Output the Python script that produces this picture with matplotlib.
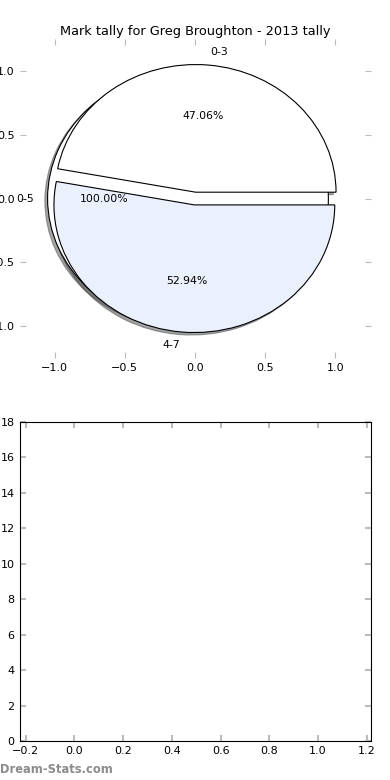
#!/usr/bin/env python3
import matplotlib
matplotlib.use("Agg")
import matplotlib.pyplot as plt

# overall tally (single slice) and split tally
all_labels = ["0-5"]
all_values = [17]
split_labels = ["0-3", "4-7"]
split_values = [8, 9]
y_ticks_bottom = [0, 2, 4, 6, 8, 10, 12, 14, 16, 18]
xy_ticks_top = [-1.0, -0.5, 0.0, 0.5, 1.0]
x_ticks_bottom = [-0.2, 0.0, 0.2, 0.4, 0.6, 0.8, 1.0, 1.2]

fig, (ax, ax2) = plt.subplots(2, 1, figsize=(3.9, 7.8), dpi=100)
fig.subplots_adjust(left=0.05, right=0.95, bottom=0.05, top=0.95, hspace=0.2)

# pie chart (shadows kept under all wedges, like old matplotlib)
shadow_opts = {"zorder": 0.9, "ox": -0.014, "oy": -0.014}
ax.pie(all_values, labels=all_labels, autopct="%.2f%%", explode=[0.05],
       shadow=shadow_opts, colors=["white"], frame=True,
       wedgeprops={"linewidth": 0.8, "edgecolor": "black"},
       textprops={"fontsize": 7.8})
ax.pie(split_values, labels=split_labels, autopct="%.2f%%",
       explode=[0.05, 0.05], shadow=shadow_opts,
       colors=["white", "#eaf0fc"], frame=True,
       wedgeprops={"linewidth": 0.8, "edgecolor": "black"},
       textprops={"fontsize": 7.8})
ax.set_aspect("auto")
ax.set_xlim(-1.25, 1.25)
ax.set_ylim(-1.25, 1.25)
ax.set_xticks(xy_ticks_top)
ax.set_yticks(xy_ticks_top)
for s in ax.spines.values():
    s.set_visible(False)
ax.tick_params(direction="in", color="#bbbbbb", length=4, top=True,
               right=True, labelsize=8)
ax.set_title("Mark tally for Greg Broughton - 2013 tally", fontsize=9.3,
             pad=3)

# empty bar area
ax2.set_xlim(-0.225, 1.215)
ax2.set_ylim(0, 18)
ax2.set_xticks(x_ticks_bottom)
ax2.set_yticks(y_ticks_bottom)
ax2.tick_params(direction="in", color="#bbbbbb", length=4, width=1.5,
                top=True, right=True, labelsize=8)

fig.text(0.0, 0.005, "Dream-Stats.com", color="#8c8c8c", fontsize=8.3,
         fontweight="semibold", ha="left", va="bottom")

fig.savefig("out.png", dpi=100)
